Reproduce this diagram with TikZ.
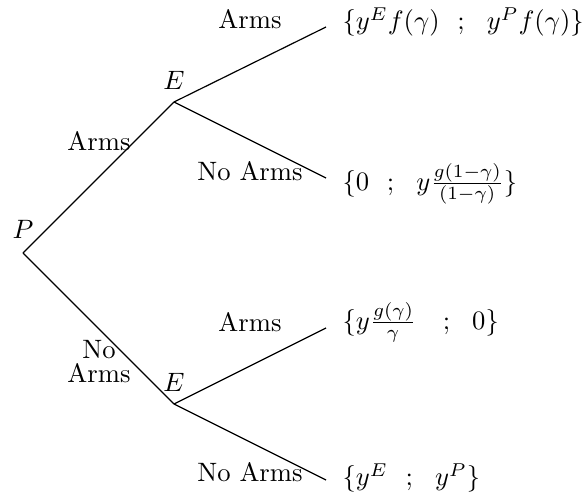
\documentclass[tikz,border=0pt]{standalone}
\begin{document}
\begin{tikzpicture}[x=0.376pt,y=-0.376pt,
  branch/.style={line width=0.45pt},
  lbl/.style={inner sep=0pt},
  payoff/.style={anchor=west, inner sep=0pt}]
\useasboundingbox (0,0) rectangle (584,502);
\coordinate (P) at (23,253);
\coordinate (E1) at (174,102);
\coordinate (E2) at (174,404);
\coordinate (t1) at (326,27);
\coordinate (t2) at (326,178);
\coordinate (t3) at (326,328);
\coordinate (t4) at (326,480);
\draw[branch] (P) -- (E1);
\draw[branch] (P) -- (E2);
\draw[branch] (E1) -- (t1);
\draw[branch] (E1) -- (t2);
\draw[branch] (E2) -- (t3);
\draw[branch] (E2) -- (t4);
\node[lbl] (pl) at (23,229) {$P$};
\node[lbl] (e1l) at (174,80) {$E$};
\node[lbl] (e2l) at (174,382) {$E$};
\node[lbl] (a1) at (250,19) {Arms};
\node[lbl] (a0) at (99,141) {Arms};
\node[lbl] (na1) at (250,171) {No Arms};
\node[lbl] (a2) at (250,322) {Arms};
\node[lbl,align=center] (na0) at (99,362) {No\\[-3pt]Arms};
\node[lbl] (na2) at (250,472) {No Arms};
\node[payoff] (p1) at (342,22) {$\{y^E f(\gamma)\ \ ;\ \ y^P f(\gamma)\}$};
\node[payoff] (p2) at (342,184) {$\{0\ \ ;\ \ y\frac{g(1-\gamma)}{(1-\gamma)}\}$};
\node[payoff] (p3) at (342,322) {$\{y\frac{g(\gamma)}{\gamma}\ \ \ ;\ \ 0\}$};
\node[payoff] (p4) at (342,478) {$\{y^E\ \ ;\ \ y^P\}$};
\end{tikzpicture}
\end{document}
